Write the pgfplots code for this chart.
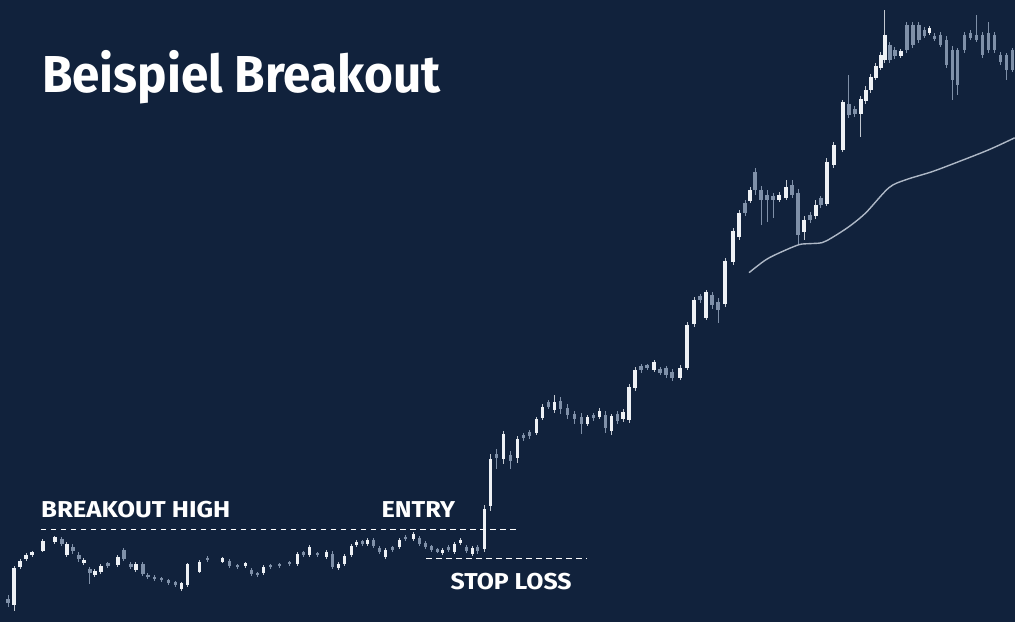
\documentclass[border=0pt]{standalone}
\usepackage{fontspec}
\setmainfont{Fira Sans}
\usepackage{pgfplots}
\usepackage{pgfplotstable}
\pgfplotsset{compat=1.18}
\definecolor{bg}{HTML}{11223C}
\definecolor{candleW}{HTML}{EEF1F5}
\definecolor{candleF}{HTML}{7F90A8}
\definecolor{ma}{HTML}{AEB8C6}

% candles in chart pixel units (y grows downward): x, high, body top, body bottom, low
\pgfplotstableread{
x hi top bot lo
14 567 569 606 612
20 560 562 568 570
26 554 556 560 562
32 552 553 556 558
43 540 542 552 553
55 537 538 543 545
67 543 545 556 558
84 559 561 564 566
95 570 572 576 578
101 565 567 573 575
118 556 558 566 568
136 563 565 571 573
182 583 584 590 592
188 564 565 586 588
200 561 563 573 574
223 558 559 563 564
246 563 564 567 569
264 566 568 574 576
298 553 555 565 567
310 546 548 556 558
327 551 553 558 560
339 563 565 569 571
345 555 557 565 567
352 545 547 556 558
357 541 543 546 548
368 539 541 545 547
386 549 551 558 560
400 539 541 548 550
414 533 535 540 542
443 549 551 554 556
455 543 545 553 555
461 539 541 544 546
473 547 549 555 557
485 506 510 550 553
491 455 460 507 512
504 432 435 460 465
518 437 440 459 464
537 418 420 434 436
543 405 408 419 421
555 396 403 411 414
588 416 418 425 427
600 409 412 418 420
612 415 417 432 436
624 410 413 420 423
630 385 388 421 424
636 367 370 389 392
655 360 362 370 372
681 365 368 378 380
688 322 325 368 370
695 297 300 324 327
707 290 292 318 320
726 258 261 304 307
734 228 231 262 265
740 210 213 237 240
751 187 190 201 203
780 192 195 200 202
787 180 187 198 200
805 216 220 232 240
817 200 205 216 219
828 158 162 204 206
835 142 145 165 168
844 100 102 150 152
862 96 99 114 137
867 86 90 101 104
872 74 77 90 93
877 63 66 78 80
882 52 55 68 70
886 10 35 60 63
902 49 51 56 58
931 26 28 33 35
}\whitecandles

\pgfplotstableread{
x hi top bot lo
8 596 600 604 608
62 538 540 545 547
73 545 548 552 555
79 553 556 560 563
90 568 570 574 585
108 563 564 567 569
124 549 551 560 562
131 563 565 568 570
143 563 565 575 577
148 574 576 578 580
155 576 578 580 582
162 578 579 581 583
169 580 581 584 586
176 582 583 586 588
208 557 559 561 563
230 560 562 567 569
238 565 566 568 570
252 569 571 575 577
258 573 574 576 578
271 565 566 568 570
280 564 565 567 569
290 562 563 565 567
304 552 553 556 558
318 553 554 556 558
333 552 555 568 570
363 541 542 545 547
374 539 541 547 549
380 547 549 553 555
393 547 548 551 553
406 536 538 540 542
420 537 539 545 547
426 542 544 548 550
432 546 547 551 553
438 549 550 553 554
449 546 548 551 553
467 546 548 552 554
478 546 548 552 555
497 450 455 459 470
511 452 456 462 470
524 434 436 439 442
530 431 433 437 440
549 401 403 408 410
561 398 402 410 415
568 405 409 416 420
575 412 415 420 425
582 414 418 425 435
594 414 416 419 422
606 412 416 429 434
618 412 415 422 425
642 364 366 370 373
648 364 365 368 370
661 367 369 373 375
667 366 368 375 378
673 369 372 378 381
701 294 296 300 303
713 292 295 305 309
719 298 302 310 323
746 200 203 213 216
756 168 172 190 195
762 186 190 200 225
768 190 195 200 222
774 193 196 200 218
793 180 185 195 198
799 189 193 235 245
811 212 215 220 223
822 196 198 205 208
850 75 104 115 118
856 106 109 114 117
891 42 45 60 63
896 47 50 56 59
908 22 25 50 53
914 22 25 45 48
920 22 25 40 43
926 27 30 36 38
936 33 36 39 41
942 32 35 45 47
948 36 40 65 68
954 46 50 80 100
959 48 50 85 95
966 32 35 50 53
972 30 33 38 40
978 15 35 40 42
984 32 35 55 58
990 22 33 50 53
996 32 35 50 53
1002 52 55 62 65
1008 53 55 70 80
1014 48 50 70 72
}\fadedcandles

\begin{document}
\begin{tikzpicture}
\fill[bg] (0,0) rectangle (1016pt,623pt);
\begin{axis}[
  at={(0,0)}, anchor=south west,
  width=1016pt, height=623pt, scale only axis,
  xmin=0, xmax=1016, ymin=0, ymax=623, y dir=reverse,
  hide axis, clip=false,
]
% wicks
\addplot[draw=none, no markers, error bars/.cd, y dir=both, y explicit, error mark=none,
  error bar style={draw=candleF, line width=0.9pt}]
  table[x=x, y=top, y error plus expr=\thisrow{lo}-\thisrow{top}, y error minus expr=\thisrow{top}-\thisrow{hi}] {\fadedcandles};
\addplot[draw=none, no markers, error bars/.cd, y dir=both, y explicit, error mark=none,
  error bar style={draw=candleW!80!bg, line width=0.9pt}]
  table[x=x, y=top, y error plus expr=\thisrow{lo}-\thisrow{top}, y error minus expr=\thisrow{top}-\thisrow{hi}] {\whitecandles};
% bodies
\addplot[draw=none, no markers, error bars/.cd, y dir=both, y explicit, error mark=none,
  error bar style={draw=candleF, line width=3.4pt}]
  table[x=x, y=top, y error plus expr=\thisrow{bot}-\thisrow{top}, y error minus expr=0] {\fadedcandles};
\addplot[draw=none, no markers, error bars/.cd, y dir=both, y explicit, error mark=none,
  error bar style={draw=candleW, line width=3.4pt}]
  table[x=x, y=top, y error plus expr=\thisrow{bot}-\thisrow{top}, y error minus expr=0] {\whitecandles};
% moving average
\addplot[ma, line width=1.4pt, smooth] coordinates {
(750,273) (767,260) (783,252) (800,245) (810,244) (823,243) (833,238) (850,227)
(867,213) (890,188) (907,180) (933,172) (957,163) (990,150) (1016,138)};
% levels
\addplot[white, line width=1pt, dash pattern=on 5.5pt off 4.5pt] coordinates {(41,530) (521,530)};
\addplot[white, line width=1pt, dash pattern=on 5.5pt off 4.5pt] coordinates {(427,559) (588,559)};
% text
\node[anchor=base west, white, font=\fontsize{52}{52}\selectfont\bfseries, inner sep=0pt] at (axis cs:42,93) {\scalebox{0.952}[1]{Beispiel Breakout}};
\node[anchor=base west, white, font=\fontsize{23}{23}\selectfont\bfseries, inner sep=0pt] at (axis cs:41,518) {\scalebox{1.12}[1]{BREAKOUT HIGH}};
\node[anchor=base west, white, font=\fontsize{23}{23}\selectfont\bfseries, inner sep=0pt] at (axis cs:382,518) {\scalebox{1.1}[1]{ENTRY}};
\node[anchor=base west, white, font=\fontsize{23}{23}\selectfont\bfseries, inner sep=0pt] at (axis cs:451,590) {\scalebox{1.08}[1]{STOP LOSS}};
\end{axis}
\end{tikzpicture}
\end{document}
